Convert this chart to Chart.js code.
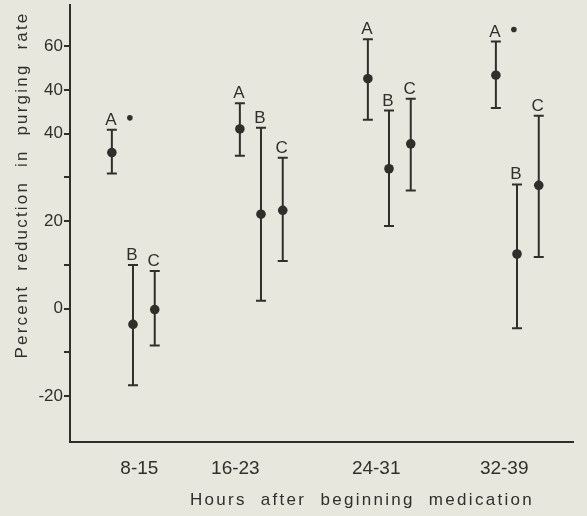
<!DOCTYPE html>
<html>
<head>
<meta charset="utf-8">
<script src="https://cdn.jsdelivr.net/npm/chart.js@4/dist/chart.umd.min.js"></script>
<style>
  html, body { margin: 0; padding: 0; background: #e8e7de; }
</style>
</head>
<body>
<canvas id="grapharea" width="587" height="516"></canvas>
<script>
// values (physical scale: 0 at the "0" tick, 10 per tick)
const categories = ['8-15', '16-23', '24-31', '32-39'];
const groupNames = ['A', 'B', 'C'];

const meanA = [35.7, 41.1, 52.6, 53.4];
const lowA  = [30.9, 35.0, 43.2, 45.9];
const highA = [40.9, 47.0, 61.6, 61.1];

const meanB = [-3.6, 21.6, 32.0, 12.5];
const lowB  = [-17.5, 1.8, 18.9, -4.5];
const highB = [10.0, 41.4, 45.3, 28.4];

const meanC = [-0.2, 22.5, 37.7, 28.2];
const lowC  = [-8.4, 10.9, 27.0, 11.8];
const highC = [8.6, 34.5, 48.0, 44.1];

const starredA = [true, false, false, true];

const yTickValues = [-20, -10, 0, 10, 20, 30, 40, 50, 60];
const yTickLabels = ['-20', '', '0', '', '20', '', '40', '40', '60'];

// styling / layout
const ink = '#2f2f2c';
const paper = '#e8e7de';
const fontFam = '"Liberation Sans", Arial, sans-serif';
const groupOffset = [-0.165, 0, 0.17];
const categoryTickPos = [0.05, 0.8, 1.9, 2.9];

const groups = [
    {name: groupNames[0], mean: meanA, low: lowA, high: highA},
    {name: groupNames[1], mean: meanB, low: lowB, high: highB},
    {name: groupNames[2], mean: meanC, low: lowC, high: highC}
];

function buildPoints(g, k){
    return g.mean.map((m, i) => ({x: i + groupOffset[k], y: m, low: g.low[i], high: g.high[i]}));
}

const paperPlugin = {
    id: 'paper',
    beforeDraw(chart){
        const ctx = chart.ctx;
        ctx.save();
        ctx.fillStyle = paper;
        ctx.fillRect(0, 0, chart.width, chart.height);
        ctx.restore();
    }
};

const errorBars = {
    id: 'errorBars',
    beforeDatasetsDraw(chart){
        const ctx = chart.ctx, xs = chart.scales.x, ys = chart.scales.y;
        ctx.save();
        ctx.strokeStyle = ink;
        ctx.lineWidth = 2;
        chart.data.datasets.forEach(ds => {
            ds.data.forEach(p => {
                const px = xs.getPixelForValue(p.x);
                const top = ys.getPixelForValue(p.high);
                const bot = ys.getPixelForValue(p.low);
                ctx.beginPath();
                ctx.moveTo(px, top); ctx.lineTo(px, bot);
                ctx.moveTo(px - 5, top); ctx.lineTo(px + 5, top);
                ctx.moveTo(px - 5, bot); ctx.lineTo(px + 5, bot);
                ctx.stroke();
            });
        });
        ctx.restore();
    },
    afterDatasetsDraw(chart){
        const ctx = chart.ctx, xs = chart.scales.x, ys = chart.scales.y;
        ctx.save();
        ctx.fillStyle = ink;
        ctx.font = '17px ' + fontFam;
        ctx.textAlign = 'center';
        ctx.textBaseline = 'alphabetic';
        chart.data.datasets.forEach((ds, k) => {
            ds.data.forEach((p, i) => {
                const px = xs.getPixelForValue(p.x);
                const top = ys.getPixelForValue(p.high);
                ctx.fillText(ds.label, px - 1, top - 5);
                if (k === 0 && starredA[i]) {
                    ctx.beginPath();
                    ctx.arc(px + 18, top - 12, 2.8, 0, Math.PI * 2);
                    ctx.fill();
                }
            });
        });
        ctx.restore();
    },
    afterDraw(chart){
        const ctx = chart.ctx;
        ctx.save();
        ctx.fillStyle = ink;
        ctx.textAlign = 'center';
        ctx.textBaseline = 'middle';
        ctx.letterSpacing = '2.3px';
        ctx.font = '17px ' + fontFam;
        ctx.fillText('Hours  after  beginning  medication', 362, 500);
        ctx.letterSpacing = '2.2px';
        ctx.translate(22, 185);
        ctx.rotate(-Math.PI / 2);
        ctx.fillText('Percent  reduction  in  purging  rate', 0, 0);
        ctx.restore();
    }
};

const CurrencyChart = new Chart(document.getElementById('grapharea'), {
    type: 'scatter',
    data: {
        datasets: groups.map((g, k) => ({
            label: g.name,
            data: buildPoints(g, k),
            pointRadius: 4.8,
            pointHoverRadius: 4.8,
            backgroundColor: ink,
            borderColor: ink,
            borderWidth: 0
        }))
    },
    options: {
        responsive: false,
        animation: false,
        events: [],
        layout: {padding: {left: 0, right: 14, top: 2, bottom: 0}},
        plugins: {legend: {display: false}, tooltip: {enabled: false}},
        scales: {
            x: {
                type: 'linear',
                min: -0.492,
                max: 3.4375,
                grid: {display: false},
                border: {display: true, color: ink, width: 2},
                afterBuildTicks: axis => { axis.ticks = categoryTickPos.map(v => ({value: v})); },
                afterFit: axis => { axis.height = 74; axis.paddingLeft = 0; axis.paddingRight = 0; },
                ticks: {
                    autoSkip: false,
                    maxRotation: 0,
                    padding: 7,
                    color: ink,
                    font: {family: fontFam, size: 19},
                    callback: (v, idx) => categories[idx]
                }
            },
            y: {
                min: -30.5,
                max: 69.5,
                grid: {display: true, drawOnChartArea: false, drawTicks: true, tickLength: 6, color: ink, lineWidth: 2},
                border: {display: true, color: ink, width: 2},
                afterBuildTicks: axis => { axis.ticks = yTickValues.map(v => ({value: v})); },
                afterFit: axis => { axis.width = 70; axis.paddingTop = 0; axis.paddingBottom = 0; },
                ticks: {
                    padding: 1,
                    color: ink,
                    font: {family: fontFam, size: 17},
                    callback: (v) => yTickLabels[yTickValues.indexOf(v)]
                }
            }
        }
    },
    plugins: [paperPlugin, errorBars]
});
</script>
</body>
</html>
